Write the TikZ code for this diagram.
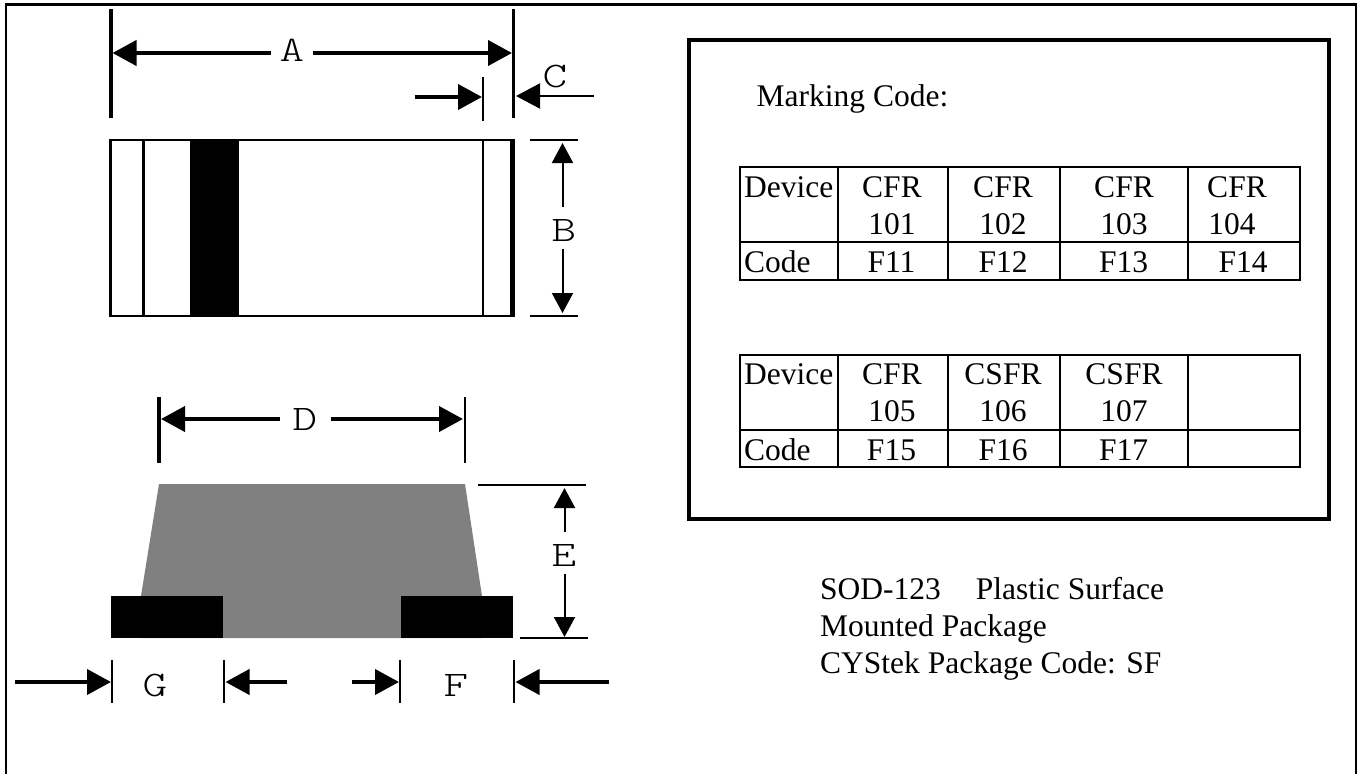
\documentclass[tikz,border=0pt]{standalone}
\usepackage{fontspec}
\setmainfont{Liberation Serif}
\newfontfamily\labelfont[FakeStretch=1.3]{Latin Modern Mono Light}
\usetikzlibrary{arrows.meta}
\tikzset{
  thinln/.style={line width=2pt},
  medln/.style={line width=3.5pt},
  heavyln/.style={line width=4pt},
  headtip/.style={-{Triangle[length=24pt,width=25pt]}},
  vheadtip/.style={-{Triangle[length=20pt,width=21pt]}},
  dimlabel/.style={font=\labelfont\fontsize{36}{36}\selectfont,inner sep=0pt,anchor=center},
  body/.style={font=\fontsize{31.5}{37}\selectfont,inner sep=0pt,anchor=base west},
  cell/.style={font=\fontsize{31.5}{37}\selectfont,inner sep=0pt,anchor=base},
  gridln/.style={line width=2pt,line cap=rect},
}
\newcommand{\dimarrow}[4]{\coordinate (#1s) at (#3); \coordinate (#1e) at (#4); \draw[#2] (#1s) -- (#1e);}
\begin{document}
\begin{tikzpicture}[x=1pt,y=-1pt]
\useasboundingbox (0,0) rectangle (1361,774);
\fill[white] (0,0) rectangle (1361,774);
% outer frame (open at the bottom)
\draw[line width=2.5pt] (6,774) -- (6,4.5) -- (1356,4.5) -- (1356,774);
% top view
\draw[medln] (111,9) -- (111,118);
\draw[medln] (513.5,9) -- (513.5,118);
\dimarrow{a1}{heavyln,headtip}{271,53}{112.5,53}
\dimarrow{a2}{heavyln,headtip}{313,53}{512,53}
\node[dimlabel] (la) at (292,50) {A};
\draw[thinln] (483,77) -- (483,121);
\dimarrow{c1}{heavyln,headtip}{415,97}{482,97}
\dimarrow{c2}{thinln,headtip}{594,96}{516,96}
\node[dimlabel] (lc) at (555,76) {C};
\draw[line width=2.5pt] (110.5,140) rectangle (513,316);
\fill (510,139) rectangle (515,317);
\draw[line width=3pt] (143,140) -- (143,316);
\fill (190,140) rectangle (239,316);
\draw[thinln] (482.5,140) -- (482.5,316);
\draw[line width=2.5pt] (530,140) -- (578,140);
\draw[line width=2.5pt] (530,316) -- (578,316);
\dimarrow{b1}{thinln,vheadtip}{562.5,207}{562.5,143}
\dimarrow{b2}{thinln,vheadtip}{562.5,249}{562.5,313}
\node[dimlabel] (lb) at (564,230) {B};
% side view
\draw[medln] (159,397) -- (159,463);
\draw[thinln] (464.5,397) -- (464.5,463);
\dimarrow{d1}{heavyln,headtip}{280,419}{161,419}
\dimarrow{d2}{heavyln,headtip}{331,419}{463,419}
\node[dimlabel] (ld) at (305,419) {D};
\fill[color={rgb,255:red,128;green,128;blue,128}] (159,484) -- (465,484) -- (482,596) -- (482,638) -- (141,638) -- (141,596) -- cycle;
\fill (111,596) rectangle (223,638);
\fill (401,596) rectangle (513,638);
\draw[line width=2.5pt] (478,485) -- (586,485);
\draw[line width=2.5pt] (520,638) -- (588,638);
\dimarrow{e1}{thinln,vheadtip}{564.5,532}{564.5,488}
\dimarrow{e2}{thinln,vheadtip}{564.5,574}{564.5,637}
\node[dimlabel] (le) at (564,555) {E};
\draw[thinln] (112,660) -- (112,703);
\draw[thinln] (224,660) -- (224,703);
\draw[thinln] (400,660) -- (400,703);
\draw[thinln] (514,660) -- (514,703);
\dimarrow{g1}{heavyln,headtip}{15,682}{111,682}
\dimarrow{g2}{heavyln,headtip}{287,682}{225.5,682}
\dimarrow{f1}{heavyln,headtip}{352,682}{399,682}
\dimarrow{f2}{heavyln,headtip}{609,682}{515.5,682}
\node[dimlabel] (lg) at (155,685) {G};
\node[dimlabel] (lf) at (456,685) {F};
% marking box
\draw[line width=4pt] (689,40) rectangle (1329,518.5);
\node[body] (mc) at (756.5,106) {Marking Code:};
% table grids
\foreach \yt/\ym/\yb in {167/242/280, 355/429.5/467}{
  \draw[gridln] (740,\yt) rectangle (1300,\yb);
  \draw[gridln] (740,\ym) -- (1300,\ym);
  \foreach \xx in {837.5,948,1060,1188}{\draw[gridln] (\xx,\yt) -- (\xx,\yb);}
}
% table 1
\node[body] (t1dev) at (744,197) {Device};
\node[body] (t1code) at (744,272) {Code};
\node[cell] (t1a) at (892,197) {CFR};
\node[cell] (t1b) at (1003,197) {CFR};
\node[cell] (t1c) at (1124,197) {CFR};
\node[cell] (t1d) at (1237,197) {CFR};
\node[cell] (t1e) at (892,234) {101};
\node[cell] (t1f) at (1003,234) {102};
\node[cell] (t1g) at (1124,234) {103};
\node[cell] (t1h) at (1232,234) {104};
\node[cell] (t1i) at (891.5,272) {F11};
\node[cell] (t1j) at (1003,272) {F12};
\node[cell] (t1k) at (1123.5,272) {F13};
\node[cell] (t1l) at (1243,272) {F14};
% table 2
\node[body] (t2dev) at (744,384.5) {Device};
\node[body] (t2code) at (744,460) {Code};
\node[cell] (t2a) at (892,384.5) {CFR};
\node[cell] (t2b) at (1003,384.5) {CSFR};
\node[cell] (t2c) at (1124,384.5) {CSFR};
\node[cell] (t2e) at (892,421) {105};
\node[cell] (t2f) at (1003,421) {106};
\node[cell] (t2g) at (1124,421) {107};
\node[cell] (t2i) at (891.5,460) {F15};
\node[cell] (t2j) at (1003,460) {F16};
\node[cell] (t2k) at (1123.5,460) {F17};
% caption
\node[body] (cap1) at (820,599) {SOD-123\hspace{35pt}Plastic Surface};
\node[body] (cap2) at (820,636) {Mounted Package};
\node[body] (cap3) at (820,673) {CYStek Package Code: SF};
\end{tikzpicture}
\end{document}
